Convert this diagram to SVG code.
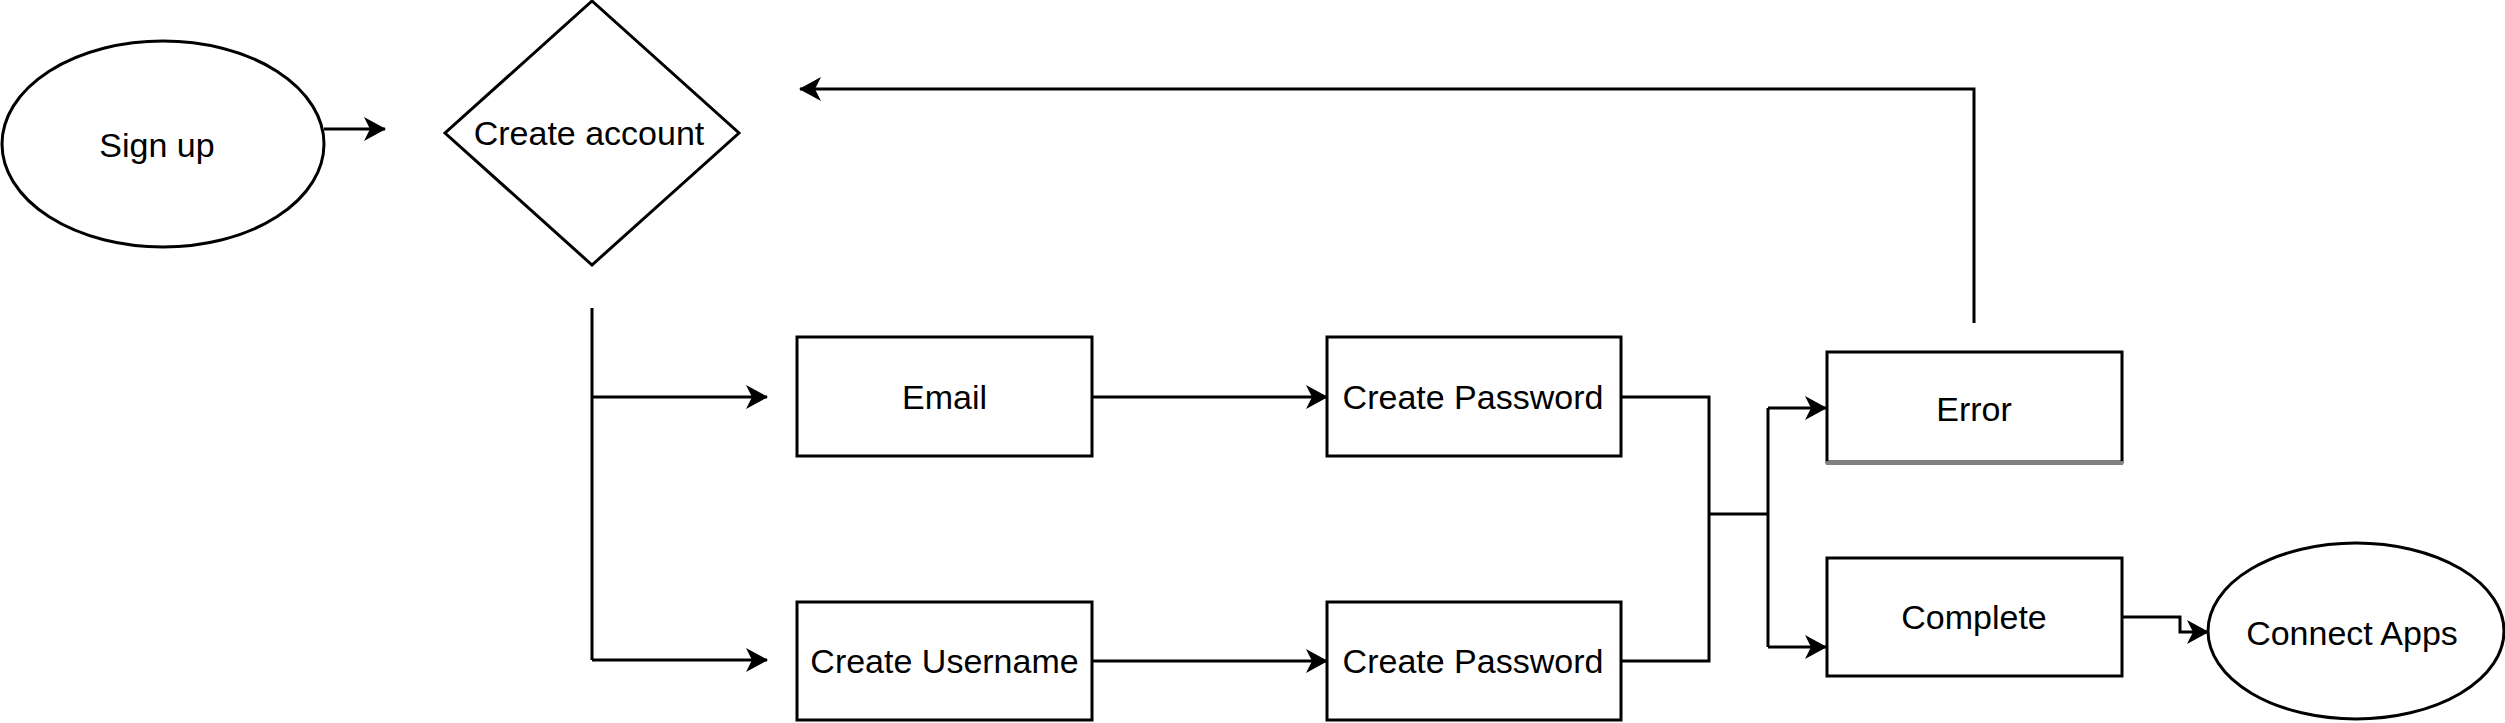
<svg xmlns="http://www.w3.org/2000/svg" width="2505" height="723" viewBox="0 0 2505 723">
<style>
.shape{fill:#ffffff;stroke:#000000;stroke-width:3}
.lbl{font-family:"Liberation Sans",Arial,Helvetica,sans-serif;font-size:34px;fill:#000000;text-anchor:middle}
.conn{fill:none;stroke:#000000;stroke-width:3}
.arr{marker-end:url(#ah)}
</style>
<defs>
<marker id="ah" viewBox="0 0 22 24" refX="21" refY="12" markerWidth="22" markerHeight="24" orient="auto" markerUnits="userSpaceOnUse">
<path d="M22,12 L0,0 L6,12 L0,24 Z" fill="#000000"/>
</marker>
</defs>
<rect x="0" y="0" width="2505" height="723" fill="#ffffff"/>
<g id="connectors">
<path class="conn arr" d="M324,129 H385"/>
<path class="conn" d="M592,308 V660"/>
<path class="conn arr" d="M592,397 H767"/>
<path class="conn arr" d="M592,660 H767"/>
<path class="conn arr" d="M1092,397 H1327"/>
<path class="conn arr" d="M1092,661 H1327"/>
<path class="conn" d="M1621,397 H1709 V661 H1621"/>
<path class="conn" d="M1709,514 H1768"/>
<path class="conn" d="M1768,408 V647"/>
<path class="conn arr" d="M1768,408 H1826"/>
<path class="conn arr" d="M1768,647 H1826"/>
<path class="conn arr" d="M1974,323 V89 H800"/>
<path class="conn arr" d="M2122,617 H2180 V632 H2208"/>
</g>
<g id="signup">
<ellipse class="shape" cx="163" cy="144" rx="161" ry="103"/>
<text class="lbl" x="157" y="157">Sign up</text>
</g>
<g id="create-account">
<polygon class="shape" points="592,1 739,133 592,265 445,133"/>
<text class="lbl" x="589" y="145">Create account</text>
</g>
<g id="email">
<rect class="shape" x="797" y="337" width="295" height="119"/>
<text class="lbl" x="944.5" y="409">Email</text>
</g>
<g id="create-password-1">
<rect class="shape" x="1327" y="337" width="294" height="119"/>
<text class="lbl" x="1473" y="409">Create Password</text>
</g>
<g id="create-username">
<rect class="shape" x="797" y="602" width="295" height="118"/>
<text class="lbl" x="944.5" y="673">Create Username</text>
</g>
<g id="create-password-2">
<rect class="shape" x="1327" y="602" width="294" height="118"/>
<text class="lbl" x="1473" y="673">Create Password</text>
</g>
<g id="error">
<rect class="shape" x="1827" y="352" width="295" height="110"/>
<line x1="1826" y1="463" x2="2123" y2="463" stroke="#808080" stroke-width="4"/>
<text class="lbl" x="1974" y="421">Error</text>
</g>
<g id="complete">
<rect class="shape" x="1827" y="558" width="295" height="118"/>
<text class="lbl" x="1974" y="629">Complete</text>
</g>
<g id="connect-apps">
<ellipse class="shape" cx="2356" cy="631" rx="148" ry="88"/>
<text class="lbl" x="2352" y="645">Connect Apps</text>
</g>
</svg>
